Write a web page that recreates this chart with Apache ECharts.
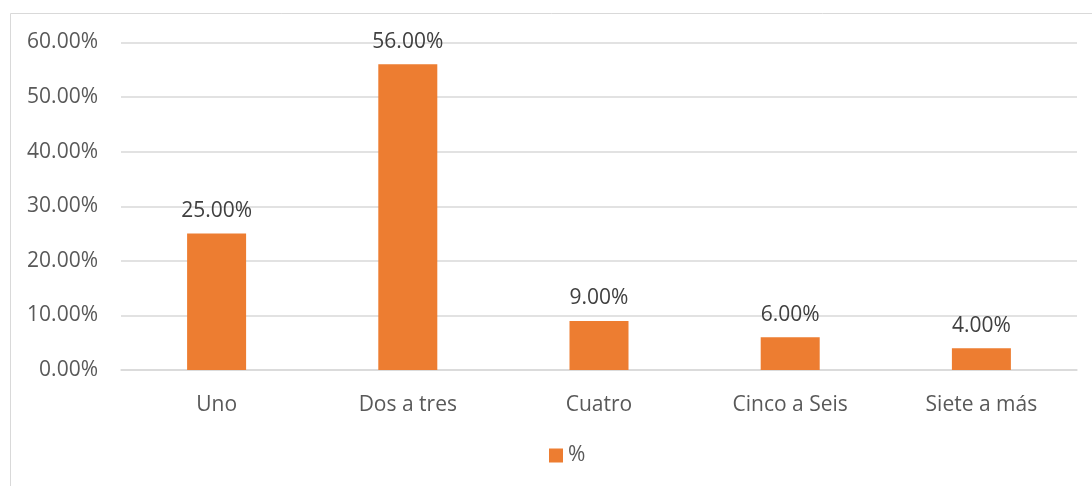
<!DOCTYPE html>
<html><head><meta charset="utf-8">
<script src="https://cdn.jsdelivr.net/npm/echarts@6/dist/echarts.min.js"></script>
<style>html,body{margin:0;padding:0;background:#fff}#c{width:1092px;height:486px}</style>
</head><body><div id="c"></div>
<script>
const categories = ['Uno', 'Dos a tres', 'Cuatro', 'Cinco a Seis', 'Siete a más'];
const values = [25, 56, 9, 6, 4];
const seriesName = '%';
const chart = echarts.init(document.getElementById('c'));
const font = '"Open Sans", "Noto Sans", sans-serif';
chart.setOption({
  animation: false,
  textStyle: { fontFamily: font },
  graphic: [{ type: 'rect', shape: { x: 10.5, y: 13.5, width: 1200, height: 600 }, style: { fill: 'none', stroke: '#d9d9d9', lineWidth: 1 }, z: -1 }],
  grid: { left: 121, right: 15, top: 42.5, bottom: 116 },
  legend: { top: 440, left: 544, itemWidth: 14, itemHeight: 14, itemGap: 6, icon: 'rect',
    textStyle: { color: '#595959', fontSize: 21, fontFamily: font }, data: [seriesName] },
  xAxis: { type: 'category', data: categories,
    axisLine: { lineStyle: { color: '#d9d9d9', width: 1.5 } }, axisTick: { show: false },
    axisLabel: { color: '#595959', fontSize: 21, margin: 25, fontFamily: font } },
  yAxis: { type: 'value', min: 0, max: 60, interval: 10,
    axisLine: { show: false }, axisTick: { show: false },
    splitLine: { lineStyle: { color: '#d9d9d9', width: 1.5 } },
    axisLabel: { color: '#595959', fontSize: 21, margin: 23, fontFamily: font, formatter: v => v.toFixed(2) + '%' } },
  series: [{ name: seriesName, type: 'bar', data: values, barWidth: 59,
    itemStyle: { color: '#ed7d31' },
    label: { show: true, position: 'top', distance: 12, color: '#404040', fontSize: 21, fontFamily: font, formatter: p => p.value.toFixed(2) + '%' } }]
});
</script></body></html>
